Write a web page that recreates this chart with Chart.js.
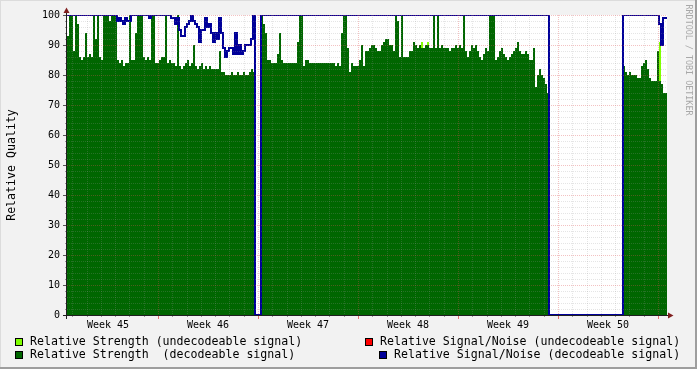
<!DOCTYPE html>
<html><head><meta charset="utf-8">
<script src="https://cdn.jsdelivr.net/npm/chart.js@4"></script>
<style>html,body{margin:0;padding:0;background:#F2F2F2;overflow:hidden}canvas{display:block}</style>
</head><body>
<canvas id="c" width="697" height="369"></canvas>
<script>
// ---- data ----
const weekLabels = ['Week 45','Week 46','Week 47','Week 48','Week 49','Week 50'];
const weekCenters = [3.5, 10.5, 17.5, 24.5, 31.5, 38.5]; // days
const yTicks = [0,10,20,30,40,50,60,70,80,90,100];
const startDay = 0.63;     // first sample (days from start of week 45)
const sampleDays = 0.14;   // sample spacing in days

const strengthDecodeable = [
100,93,100,100,88,100,97,86,85,86,
94,86,87,86,100,92,100,86,85,100,
100,100,98,100,100,100,85,84,85,83,
84,84,100,85,85,94,100,100,100,86,
85,86,85,100,100,84,84,85,86,86,
100,84,85,84,84,83,100,83,82,83,
84,85,83,84,90,83,82,83,84,82,
83,82,83,82,82,82,82,88,81,81,
80,80,80,81,80,80,81,80,80,81,
80,80,81,82,81,0,0,0,100,97,
94,85,85,84,84,84,87,94,85,84,
84,84,84,84,84,84,91,100,100,83,
85,85,84,84,84,84,84,84,84,84,
84,84,84,84,84,83,84,83,94,100,
100,89,81,84,83,83,83,85,90,83,
88,88,89,90,90,89,88,88,90,91,
92,92,90,90,88,100,98,86,100,86,
86,86,88,88,91,90,89,90,89,89,
90,90,89,89,100,89,100,89,90,89,
89,89,88,89,89,90,89,90,89,100,
88,86,88,90,89,90,88,86,85,87,
89,88,100,100,100,85,86,88,89,87,
86,85,86,87,88,89,91,88,87,87,
88,87,85,85,89,76,80,82,80,79,
77,74,0,0,0,0,0,0,0,0,
0,0,0,0,0,0,0,0,0,0,
0,0,0,0,0,0,0,0,0,0,
0,0,0,0,0,0,0,0,0,83,
81,80,81,80,80,80,79,79,83,84,
85,82,79,78,78,78,88,78,77,74
];

const snDecodeable = [
100,100,100,100,100,100,100,100,100,100,
100,100,100,100,100,100,100,100,100,100,
100,100,100,100,100,100,98,99,98,97,
99,98,98,100,100,100,100,100,100,100,
100,100,99,100,100,100,100,100,100,100,
100,100,100,99,99,97,99,95,93,93,
96,97,98,100,98,97,96,91,95,95,
99,96,97,94,91,94,92,99,94,89,
86,88,89,89,87,94,87,90,87,88,
90,90,90,92,100,0,0,0,100,100,
100,100,100,100,100,100,100,100,100,100,
100,100,100,100,100,100,100,100,100,100,
100,100,100,100,100,100,100,100,100,100,
100,100,100,100,100,100,100,100,100,100,
100,100,100,100,100,100,100,100,100,100,
100,100,100,100,100,100,100,100,100,100,
100,100,100,100,100,100,100,100,100,100,
100,100,100,100,100,100,100,100,100,100,
100,100,100,100,100,100,100,100,100,100,
100,100,100,100,100,100,100,100,100,100,
100,100,100,100,100,100,100,100,100,100,
100,100,100,100,100,100,100,100,100,100,
100,100,100,100,100,100,100,100,100,100,
100,100,100,100,100,100,100,100,100,100,
100,100,0,0,0,0,0,0,0,0,
0,0,0,0,0,0,0,0,0,0,
0,0,0,0,0,0,0,0,0,0,
0,0,0,0,0,0,0,0,0,100,
100,100,100,100,100,100,100,100,100,100,
100,100,100,100,100,100,100,97,90,99
];

// sparse undecodeable strength samples (sample index, value)
const strengthUndecIdx = [177, 180, 217, 296];
const strengthUndecVal = [91, 91, 89, 91];
// undecodeable signal/noise: no samples visible
const snUndecIdx = [];
const snUndecVal = [];

const seriesLabels = [
  'Relative Strength (undecodeable signal)',
  'Relative Signal/Noise (undecodeable signal)',
  'Relative Strength  (decodeable signal)',
  'Relative Signal/Noise (decodeable signal)'
];

// ---- build points ----
const tOf = i => startDay + i * sampleDays;
function stepPoints(vals){
  const pts = vals.map((v,i)=>({x:tOf(i), y:v}));
  pts.push({x:tOf(vals.length), y:vals[vals.length-1]});
  return pts;
}
function sparsePoints(idx, vals){
  const pts = [];
  idx.forEach((k,j)=>{
    pts.push({x:tOf(k), y:vals[j]});
    pts.push({x:tOf(k+1), y:vals[j]});
    pts.push({x:tOf(k+1), y:null});
  });
  return pts;
}
const N = strengthDecodeable.length;

const COL = {
  undecStr:'#7FFF00', undecSN:'#FF0000', decStr:'#006600', decSN:'#000099'
};
const MONO = '"DejaVu Sans Mono", monospace';

const rrdPlugin = {
  id:'rrd',
  beforeDraw(chart){
    const {ctx, chartArea:a, width:W, height:H} = chart;
    ctx.save();
    ctx.fillStyle='#F2F2F2'; ctx.fillRect(0,0,W,H);
    ctx.fillStyle='#DCDCDC'; ctx.fillRect(0,0,W,1); ctx.fillRect(0,0,1,H);
    ctx.fillStyle='#9E9E9E'; ctx.fillRect(0,H-2,W,2); ctx.fillRect(W-2,0,2,H);
    ctx.fillStyle='#FFFFFF'; ctx.fillRect(a.left,a.top,a.right-a.left,a.bottom-a.top);
    ctx.restore();
  },
  afterDatasetsDraw(chart){
    const {ctx, chartArea:a} = chart;
    const xs = chart.scales.x, ys = chart.scales.y;
    ctx.save();
    ctx.beginPath(); ctx.rect(a.left,a.top,a.right-a.left,a.bottom-a.top+1); ctx.clip();
    ctx.lineWidth=1; ctx.setLineDash([1,1]);
    const minor='rgba(150,150,150,0.25)', major='rgba(222,79,79,0.35)';
    // vertical day / week lines
    for(let d=Math.ceil(xs.min); d<=xs.max; d++){
      const px=Math.round(xs.getPixelForValue(d))+0.5;
      ctx.strokeStyle = (d%7===0)? major : minor;
      ctx.beginPath(); ctx.moveTo(px,a.top); ctx.lineTo(px,a.bottom); ctx.stroke();
    }
    // horizontal lines
    for(let v=2; v<=100; v+=2){
      const py=Math.round(ys.getPixelForValue(v))+0.5;
      ctx.strokeStyle = (v%10===0)? major : minor;
      ctx.beginPath(); ctx.moveTo(a.left,py); ctx.lineTo(a.right,py); ctx.stroke();
    }
    ctx.restore();
  },
  afterDraw(chart){
    const {ctx, chartArea:a} = chart;
    const xs = chart.scales.x, ys = chart.scales.y;
    ctx.save();
    ctx.setLineDash([]); ctx.lineWidth=1;
    // tick marks
    for(let d=Math.ceil(xs.min); d<=xs.max; d++){
      const px=Math.round(xs.getPixelForValue(d))+0.5;
      const maj = d%7===0;
      ctx.strokeStyle = maj? 'rgba(222,79,79,0.8)' : 'rgba(143,143,143,0.9)';
      ctx.beginPath(); ctx.moveTo(px,a.bottom); ctx.lineTo(px,a.bottom+(maj?4:2)); ctx.stroke();
    }
    for(let v=0; v<=100; v+=2){
      const py=Math.round(ys.getPixelForValue(v))+0.5;
      const maj = v%10===0;
      ctx.strokeStyle = maj? '#555555' : 'rgba(143,143,143,0.9)';
      ctx.beginPath(); ctx.moveTo(a.left-(maj?4:2),py); ctx.lineTo(a.left,py); ctx.stroke();
    }
    // axes
    ctx.strokeStyle='#1F1F1F';
    ctx.beginPath(); ctx.moveTo(a.left-4,a.bottom+0.5); ctx.lineTo(a.right+2,a.bottom+0.5); ctx.stroke();
    ctx.beginPath(); ctx.moveTo(a.left-0.5,a.bottom+4); ctx.lineTo(a.left-0.5,a.top-3); ctx.stroke();
    // arrows
    ctx.fillStyle='#801F1F';
    ctx.beginPath(); ctx.moveTo(a.left-3.5,a.top-2); ctx.lineTo(a.left+2.5,a.top-2); ctx.lineTo(a.left-0.5,a.top-7.5); ctx.closePath(); ctx.fill();
    ctx.beginPath(); ctx.moveTo(a.right+1,a.bottom-2.5); ctx.lineTo(a.right+1,a.bottom+3.5); ctx.lineTo(a.right+6.5,a.bottom+0.5); ctx.closePath(); ctx.fill();
    // axis title
    ctx.fillStyle='#000'; ctx.font='11.6px '+MONO; ctx.textAlign='center'; ctx.textBaseline='middle';
    ctx.save(); ctx.translate(12,165); ctx.rotate(-Math.PI/2); ctx.fillText('Relative Quality',0,0); ctx.restore();
    // watermark
    ctx.save(); ctx.fillStyle='#A8A8A8'; ctx.font='8.4px '+MONO; ctx.translate(688,60); ctx.rotate(Math.PI/2); ctx.fillText('RRDTOOL / TOBI OETIKER',0,0); ctx.restore();
    // legend
    const ds = chart.data.datasets;
    const items = [
      {d:ds[0], bx:15, tx:30, y:341.5},
      {d:ds[1], bx:365, tx:380, y:341.5},
      {d:ds[2], bx:15, tx:30, y:355},
      {d:ds[3], bx:379, tx:394, y:355}
    ];
    ctx.font='11.6px '+MONO; ctx.textAlign='left'; ctx.textBaseline='middle';
    items.forEach(it=>{
      const by=Math.round(it.y-4);
      ctx.fillStyle=it.d.legendColor; ctx.fillRect(it.bx,by,8,8);
      ctx.strokeStyle='#000'; ctx.strokeRect(it.bx+0.5,by+0.5,7,7);
      ctx.fillStyle='#000'; ctx.fillText(it.d.label,it.tx,it.y);
    });
    ctx.restore();
  }
};

new Chart(document.getElementById('c'), {
  type:'line',
  data:{datasets:[
    {label:seriesLabels[0], legendColor:COL.undecStr, data:sparsePoints(strengthUndecIdx,strengthUndecVal),
     backgroundColor:COL.undecStr, borderColor:'rgba(0,0,0,0)', borderWidth:0, fill:'origin', stepped:'after', pointRadius:0, spanGaps:false, order:3},
    {label:seriesLabels[1], legendColor:COL.undecSN, data:sparsePoints(snUndecIdx,snUndecVal),
     borderColor:COL.undecSN, borderWidth:2, fill:false, stepped:'after', pointRadius:0, spanGaps:false, order:1},
    {label:seriesLabels[2], legendColor:COL.decStr, data:stepPoints(strengthDecodeable),
     backgroundColor:COL.decStr, borderColor:'rgba(0,0,0,0)', borderWidth:0, fill:'origin', stepped:'after', pointRadius:0, order:2},
    {label:seriesLabels[3], legendColor:COL.decSN, data:stepPoints(snDecodeable),
     borderColor:COL.decSN, borderWidth:2, fill:false, stepped:'after', pointRadius:0, order:0}
  ]},
  options:{
    responsive:false, animation:false, devicePixelRatio:1, events:[],
    layout:{padding:{top:15,right:30,bottom:30,left:0}},
    plugins:{legend:{display:false}, tooltip:{enabled:false}},
    scales:{
      x:{type:'linear', bounds:'data', min:startDay, max:tOf(N),
        afterBuildTicks:s=>{ s.ticks = weekCenters.map(v=>({value:v})); },
        ticks:{callback:(v,i)=>weekLabels[i], maxRotation:0, minRotation:0, autoSkip:false,
          font:{family:MONO,size:10}, color:'#000', padding:4},
        grid:{display:false, drawTicks:false}, border:{display:false},
        afterFit:s=>{ s.height=24; }
      },
      y:{min:0, max:100, bounds:'data',
        afterBuildTicks:s=>{ s.ticks = yTicks.map(v=>({value:v})); },
        ticks:{font:{family:MONO,size:10}, color:'#000', padding:7},
        grid:{display:false, drawTicks:false}, border:{display:false},
        afterFit:s=>{ s.width=67; }
      }
    }
  },
  plugins:[rrdPlugin]
});
</script>
</body></html>
